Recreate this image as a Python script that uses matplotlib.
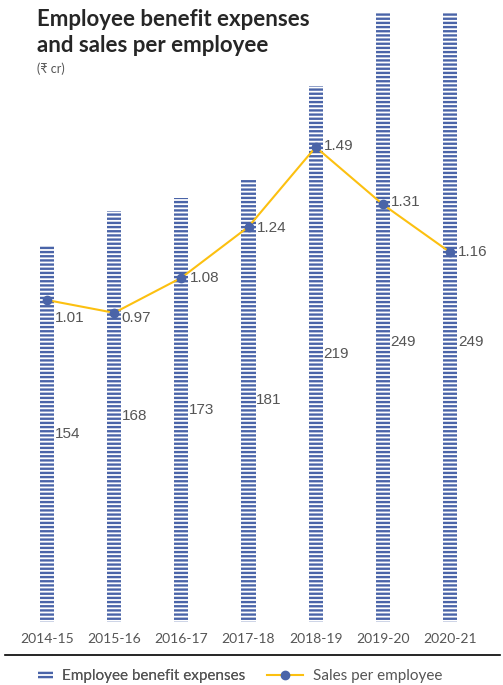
import matplotlib.pyplot as plt
from matplotlib.lines import Line2D
from matplotlib.patches import Patch

plt.rcParams["font.family"] = ["Lato", "DejaVu Sans"]
plt.rcParams["hatch.linewidth"] = 1.7

years = ["2014-15", "2015-16", "2016-17", "2017-18", "2018-19", "2019-20", "2020-21"]
benefit_expenses = [154, 168, 173, 181, 219, 249, 249]
sales_per_employee = [1.01, 0.97, 1.08, 1.24, 1.49, 1.31, 1.16]
# height (in ₹ cr) at which each bar's value label sits
bar_label_y = [77, 84, 86.5, 90.5, 109.5, 114.5, 114.5]

bar_blue = "#4a64a8"
line_yellow = "#fcc010"
text_grey = "#555555"
num_font = ["Liberation Sans", "DejaVu Sans"]

fig = plt.figure(figsize=(5.03, 6.85), dpi=100)
ax = fig.add_axes([10 / 503, 63 / 685, 485 / 503, 612 / 685])
ax2 = ax.twinx()

x = list(range(len(years)))
ax.bar(x, benefit_expenses, width=0.21, color="white", edgecolor=bar_blue,
       linewidth=0, hatch="----")
ax.set_xlim((10 - 47) / 67.17, (495 - 47) / 67.17)
ax.set_ylim(0, 250)

for xi, v, ly in zip(x, benefit_expenses, bar_label_y):
    ax.annotate(str(v), (xi + 0.105, ly), xytext=(0.5, 0), textcoords="offset points",
                ha="left", va="center", fontsize=11, color=text_grey, family=num_font)

ax2.plot(x, sales_per_employee, color=line_yellow, linewidth=1.5,
         marker="o", markersize=6, markerfacecolor=bar_blue, markeredgecolor=bar_blue)
ax2.set_ylim(0, 1.92)

label_offsets = [(6, -13), (5, -4), (6, 0), (6, -1), (6, 1), (6, 2), (6, 0)]
for xi, v, off in zip(x, sales_per_employee, label_offsets):
    ax2.annotate(f"{v:.2f}", (xi, v), xytext=off, textcoords="offset points",
                 ha="left", va="center", fontsize=11, color=text_grey, family=num_font)

for a in (ax, ax2):
    for s in a.spines.values():
        s.set_visible(False)
    a.set_yticks([])
ax.set_xticks(x)
ax.set_xticklabels(years, fontsize=10, color=text_grey)
ax.tick_params(axis="x", length=0, pad=8)

fig.text(37 / 503, 1 - 9 / 685, "Employee benefit expenses\nand sales per employee",
         ha="left", va="top", fontsize=16, fontweight="bold", color="#262626",
         linespacing=1.27)
fig.text(37 / 503, 1 - 62 / 685, "(₹ cr)", ha="left", va="top", fontsize=9,
         color=text_grey)

# separator above the legend
fig.add_artist(Line2D([5 / 503, 500 / 503], [1 - 655 / 685, 1 - 655 / 685],
                      color="black", linewidth=1.2))

bar_handle = Patch(facecolor="white", edgecolor=bar_blue, linewidth=0, hatch="----")
line_handle = Line2D([], [], color=line_yellow, linewidth=1.5, marker="o", markersize=6,
                     markerfacecolor=bar_blue, markeredgecolor=bar_blue)
leg1 = fig.legend([bar_handle], ["Employee benefit expenses"], loc="center left",
                  bbox_to_anchor=(24 / 503, 1 - 676 / 685), frameon=False,
                  fontsize=11, labelcolor=text_grey, handlelength=1.0,
                  handleheight=0.45, handletextpad=0.6)
fig.legend([line_handle], ["Sales per employee"], loc="center left",
           bbox_to_anchor=(253 / 503, 1 - 676 / 685), frameon=False,
           fontsize=11, labelcolor=text_grey, handlelength=2.4, handletextpad=0.6)
fig.add_artist(leg1)

fig.savefig("out.png", dpi=100)
